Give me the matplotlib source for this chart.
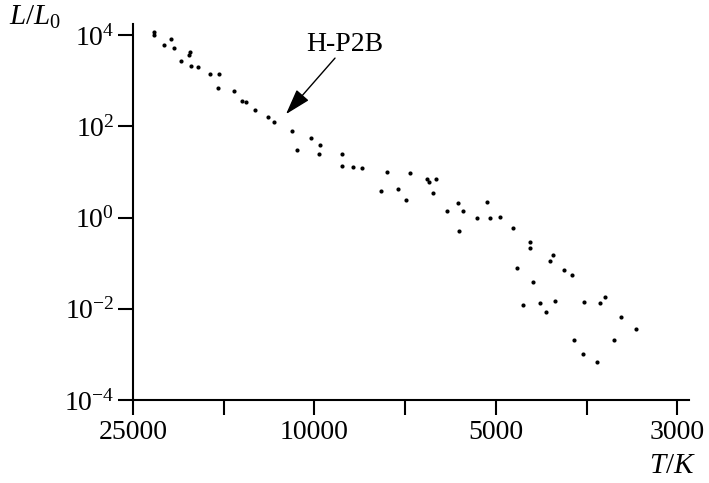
import numpy as np
import matplotlib.pyplot as plt

plt.rcParams['font.family'] = 'Liberation Serif'
plt.rcParams['mathtext.fontset'] = 'custom'
plt.rcParams['mathtext.rm'] = 'Liberation Serif'
plt.rcParams['mathtext.it'] = 'Liberation Serif:italic'

# -- data (temperature in K, luminosity in L/L0) -- #
temp_k = [22500, 22500, 20600, 21370, 20350, 18750, 18840, 19580, 18670, 17970,
          16940, 16210, 16290, 15030, 14430, 14120, 13480, 12640, 12260, 11195,
          10155, 9775, 10900, 9823, 8986, 8986, 8636, 8344, 7584, 6929,
          6503, 6446, 6276, 7751, 7249, 7052, 6362, 5774, 5654, 6018,
          5370, 5174, 5109, 4937, 5748, 4755, 4539, 4539, 4258, 4291,
          4702, 4497, 4119, 4031, 4627, 4412, 4225, 4340, 3900, 3727,
          3678, 3508, 3370, 3587, 4011, 3907, 3756]
lum = [11600, 10000, 8130, 5915, 5240, 4220, 3625, 2637, 2112, 1977,
       1388, 1368, 695, 589, 355, 332, 225, 158, 123, 76.9,
       54.0, 38.5, 29.5, 24.1, 24.1, 13.5, 12.5, 12.2, 9.70, 9.36,
       6.81, 6.04, 7.09, 3.72, 4.28, 2.39, 3.45, 2.03, 1.41, 1.42,
       0.951, 2.20, 0.975, 1.05, 0.50, 0.582, 0.287, 0.212, 0.151, 0.110,
       0.0801, 0.0391, 0.0692, 0.0543, 0.01193, 0.01334, 0.0146, 0.00838, 0.01374, 0.01320,
       0.01815, 0.00651, 0.00355, 0.00202, 0.00206, 0.001005, 0.000678]

x_ticks = [25000, 15810, 10000, 7070, 5000, 3870, 3000]
x_tick_labels = ['25000', '', '10000', '', '5000', '', '3000']
y_ticks = [1e4, 1e2, 1e0, 1e-2, 1e-4]
y_tick_labels = [r'$10^{4}$', r'$10^{2}$', r'$10^{0}$', r'$10^{-2}$', r'$10^{-4}$']

star_name = 'H-P2B'
star_arrow_tip = (11540, 184)
star_arrow_tail = (9240, 3115)
star_label_pos = (8890, 6310)

# -- the temperature axis: labelled ticks are evenly spaced, log inside each segment -- #
# forward is increasing in T, the axis is then inverted with set_xlim
LOG_REF = np.log10([25000.0, 10000.0, 5000.0, 3000.0])


def t_fwd(t):
    lt = np.log10(np.clip(np.asarray(t, dtype=float), 1.0, None))
    pos = np.where(lt >= LOG_REF[1],
                   (LOG_REF[0] - lt) / (LOG_REF[0] - LOG_REF[1]) * 2,
                   np.where(lt >= LOG_REF[2],
                            2 + (LOG_REF[1] - lt) / (LOG_REF[1] - LOG_REF[2]) * 2,
                            4 + (LOG_REF[2] - lt) / (LOG_REF[2] - LOG_REF[3]) * 2))
    return -pos


def t_inv(q):
    p = -np.asarray(q, dtype=float)
    lt = np.where(p <= 2, LOG_REF[0] - p / 2 * (LOG_REF[0] - LOG_REF[1]),
                  np.where(p <= 4, LOG_REF[1] - (p - 2) / 2 * (LOG_REF[1] - LOG_REF[2]),
                           LOG_REF[2] - (p - 4) / 2 * (LOG_REF[2] - LOG_REF[3])))
    return 10 ** lt


fig = plt.figure(figsize=(7.09, 4.83), dpi=100)
ax = fig.add_axes([0.1876, 0.1718, 0.7842, 0.7785])
ax.set_xscale('function', functions=(t_fwd, t_inv))
ax.set_yscale('log')

ax.scatter(temp_k, lum, s=9, c='black', marker='o', linewidths=0)

ax.set_xlim(25000, 2900)
ax.set_ylim(1e-4, 17400)

ax.set_xticks(x_ticks)
ax.set_xticklabels(x_tick_labels, fontsize=20)
ax.set_yticks(y_ticks)
ax.set_yticklabels(y_tick_labels, fontsize=20)
ax.minorticks_off()
ax.tick_params(axis='both', direction='out', length=10.5, width=1.5, color='black')
ax.tick_params(axis='x', pad=4)
ax.tick_params(axis='y', pad=3)

for side in ['top', 'right']:
    ax.spines[side].set_visible(False)
for side in ['left', 'bottom']:
    ax.spines[side].set_linewidth(1.5)

# star label with arrow
ax.annotate('', xy=star_arrow_tip, xytext=star_arrow_tail,
            arrowprops=dict(arrowstyle='-|>,head_length=0.8,head_width=0.25',
                            color='black', lw=1, mutation_scale=20,
                            shrinkA=0, shrinkB=0))
ax.text(star_label_pos[0], star_label_pos[1], star_name, fontsize=20,
        ha='center', va='center')

fig.text(35 / 709, 1 - 17 / 483, r'$L/L_{\mathrm{0}}$', fontsize=21,
         ha='center', va='center')
fig.text(672 / 709, 1 - 466 / 483, r'$T/K$', fontsize=21,
         ha='center', va='center')

fig.savefig('out.png', dpi=100)
